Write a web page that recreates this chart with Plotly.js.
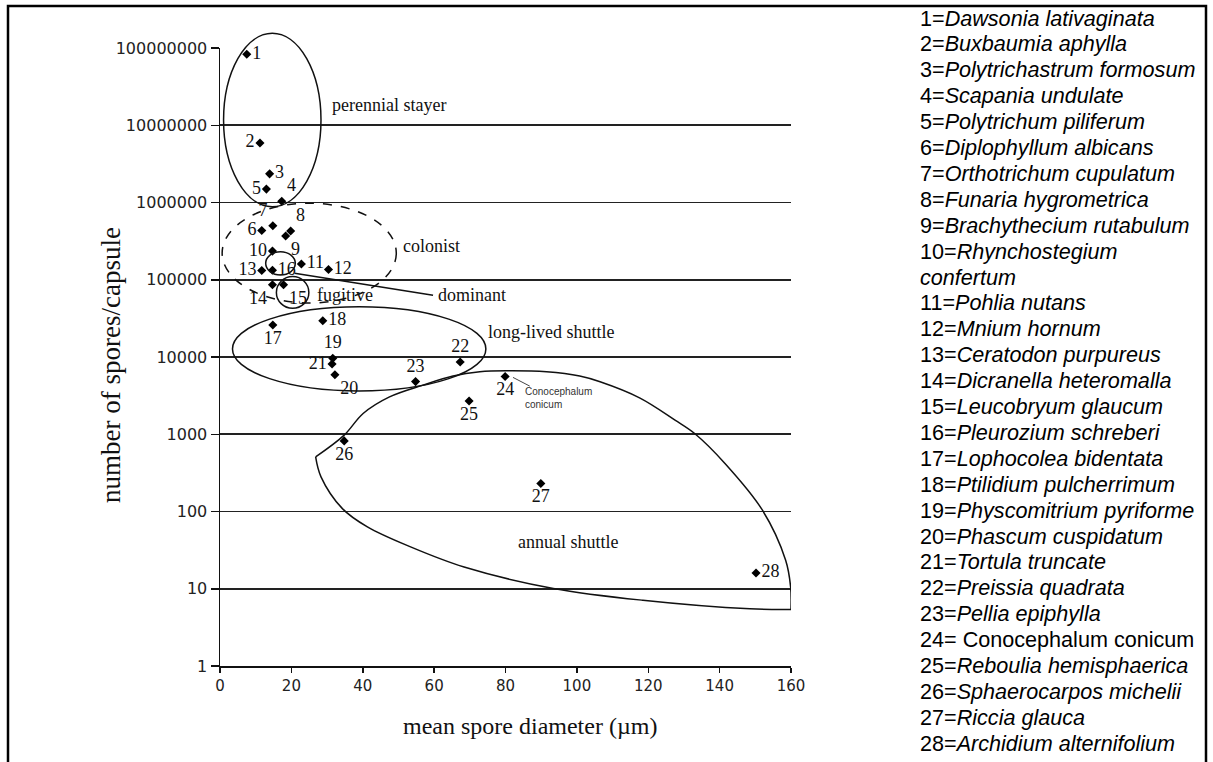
<!DOCTYPE html>
<html><head><meta charset="utf-8">
<script src="https://cdn.plot.ly/plotly-3.0.1.min.js"></script>
<style>html,body{margin:0;padding:0;background:#fff}#chart{width:1213px;height:762px}</style>
</head><body><div id="chart"></div>
<script>
// ---------- data ----------
const speciesIds = [1,2,3,4,5,6,7,8,9,10,11,12,13,14,15,16,17,18,19,20,21,22,23,24,25,26,27,28];
const speciesNames = ["Dawsonia lativaginata","Buxbaumia aphylla","Polytrichastrum formosum","Scapania undulate",
  "Polytrichum piliferum","Diplophyllum albicans","Orthotrichum cupulatum","Funaria hygrometrica",
  "Brachythecium rutabulum","Rhynchostegium confertum","Pohlia nutans","Mnium hornum","Ceratodon purpureus",
  "Dicranella heteromalla","Leucobryum glaucum","Pleurozium schreberi","Lophocolea bidentata",
  "Ptilidium pulcherrimum","Physcomitrium pyriforme","Phascum cuspidatum","Tortula truncate",
  "Preissia quadrata","Pellia epiphylla","Conocephalum conicum","Reboulia hemisphaerica",
  "Sphaerocarpos michelii","Riccia glauca","Archidium alternifolium"];
const sporeDiameter = [7.5,11.2,13.9,17.3,13.0,11.7,14.8,19.8,18.4,14.7,22.8,30.4,11.7,14.7,17.8,14.7,14.8,28.8,31.6,32.2,31.4,67.3,54.8,79.9,69.8,34.8,89.9,150.2];
const sporesPerCapsule = [8.3e7,5.9e6,2.35e6,1.04e6,1.49e6,4.35e5,5.0e5,4.27e5,3.68e5,2.35e5,1.6e5,1.36e5,1.32e5,8.6e4,8.6e4,1.33e5,2.6e4,2.95e4,9600,5900,8100,8600,4800,5600,2700,820,230,16];
const xTickVals = [0,20,40,60,80,100,120,140,160];
const yTickVals = [1,10,100,1000,10000,100000,1000000,10000000,100000000];
const yTickText = ["1","10","100","1000","10000","100000","1000000","10000000","100000000"];
const xTitle = "mean spore diameter (µm)";
const yTitle = "number of spores/capsule";

// life-strategy regions (outline extents in data units)
const regionNames = ["perennial stayer","colonist","fugitive","dominant","long-lived shuttle","annual shuttle"];
const perennialX = [1.0, 28.3],  perennialY = [8.8e5, 1.55e8];
const colonistX  = [0.6, 49.4],  colonistY  = [5.0e4, 9.8e5];
const dominantX  = [12.8, 21.1], dominantY  = [1.15e5, 2.31e5];
const fugitiveX  = [15.8, 24.9], fugitiveY  = [4.27e4, 1.1e5];
const longLivedX = [3.5, 74.5],  longLivedY = [3630, 4.47e4];
const dominantLeaderX = [20.9, 59.7], dominantLeaderY = [1.21e5, 6.3e4];
const annualUpperX = [26.8,34.8,40.1,47.5,56.9,65.3,72.8,80.3,91.5,100.8,106.5,117.7,127.5,133.0,141.5,152.0,158.5,159.9,160];
const annualUpperY = [509,973,1858,3048,4325,5662,6427,6622,6427,5662,4775,2938,1524,1023,419,104,23.4,10.5,5.4];
const annualLowerX = [160,148.5,118.5,93.4,68.4,53.4,41.3,34.3,28.3,26.8];
const annualLowerY = [5.4,5.5,7.1,10.1,19.1,34.8,63.2,109,281,509];
const regionLabelX = [30.7, 50.8, 26.5, 60.6, 74.5, 82.9];
const regionLabelY = [1.83e7, 2.74e5, 6.34e4, 6.34e4, 2.12e4, 40.4];
const conoLeaderX = [82.1, 86.8], conoLeaderY = [5445, 4198];
const conoLabelX = 84.9, conoLabelY = 2910;

// ---------- styling ----------
const labelPositions = ["middle right","middle left","middle right","top right","middle left","middle left","top left","top right",
  "bottom right","middle left","middle right","middle right","middle left","bottom left","bottom right","middle right",
  "bottom center","middle right","top center","bottom right","middle left","top center","top center","bottom center",
  "bottom center","bottom center","bottom center","middle right"];
const SERIF = "Liberation Serif, Times New Roman, serif";
const SANS = "DejaVu Sans, Verdana, sans-serif";
const ARIAL = "Liberation Sans, Arial, sans-serif";
const W = 1213, H = 762, ML = 220, MR = 422, MT = 48, MB = 96;
const PW = W - ML - MR, PH = H - MT - MB;
const pxX = px => (px - ML) / PW;
const pxY = py => (H - MB - py) / PH;
const dX = x => x / 160;
const dY = v => Math.log10(v) / 8;

function ellipse(xr, yr, dash) {
  return {type:'circle', xref:'paper', yref:'paper', x0:dX(xr[0]), x1:dX(xr[1]), y0:dY(yr[0]), y1:dY(yr[1]),
    line:{color:'#111', width:1.5, dash:dash||'solid'}, layer:'above'};
}

const traces = [
  {x: annualUpperX, y: annualUpperY, mode:'lines', line:{color:'#111', width:1.5, shape:'spline', smoothing:1}, hoverinfo:'skip', showlegend:false},
  {x: annualLowerX, y: annualLowerY, mode:'lines', line:{color:'#111', width:1.5, shape:'spline', smoothing:1}, hoverinfo:'skip', showlegend:false},
  {x: sporeDiameter, y: sporesPerCapsule, mode:'markers+text', text: speciesIds.map(String),
   textposition: labelPositions, textfont:{family:SERIF, size:18, color:'#111'},
   marker:{symbol:'diamond', size:7, color:'#000'}, cliponaxis:false, showlegend:false,
   customdata: speciesNames, hovertemplate:'%{customdata}<br>%{x} µm, %{y}<extra></extra>'}
];

const shapes = [
  {type:'rect', xref:'paper', yref:'paper', x0:pxX(8), x1:pxX(1206), y0:pxY(790), y1:pxY(6), line:{color:'#000', width:2.5}},
  ellipse(perennialX, perennialY),
  ellipse(colonistX, colonistY, 'dash'),
  ellipse(dominantX, dominantY),
  ellipse(fugitiveX, fugitiveY),
  ellipse(longLivedX, longLivedY),
  {type:'line', xref:'paper', yref:'paper', x0:dX(dominantLeaderX[0]), y0:dY(dominantLeaderY[0]), x1:dX(dominantLeaderX[1]), y1:dY(dominantLeaderY[1]), line:{color:'#111', width:1.5}},
  {type:'line', xref:'paper', yref:'paper', x0:dX(conoLeaderX[0]), y0:dY(conoLeaderY[0]), x1:dX(conoLeaderX[1]), y1:dY(conoLeaderY[1]), line:{color:'#444', width:1}}
];

const annotations = [];
regionNames.forEach((t, i) => annotations.push({xref:'x', yref:'y', x: regionLabelX[i], y: Math.log10(regionLabelY[i]),
  text: t, showarrow:false, xanchor:'left', yanchor:'middle', font:{family:SERIF, size:18, color:'#111'}}));
annotations.push({xref:'x', yref:'y', x: conoLabelX, y: Math.log10(conoLabelY), text:'Conocephalum<br>conicum',
  showarrow:false, xanchor:'left', yanchor:'middle', align:'left', font:{family:ARIAL, size:10, color:'#333'}});
// axis titles
annotations.push({xref:'paper', yref:'paper', x: pxX(111), y: pxY(365), text: yTitle, textangle:-90,
  showarrow:false, xanchor:'center', yanchor:'middle', font:{family:SERIF, size:27, color:'#111'}});
annotations.push({xref:'paper', yref:'paper', x: pxX(530), y: pxY(726), text: xTitle,
  showarrow:false, xanchor:'center', yanchor:'middle', font:{family:SERIF, size:24, color:'#111'}});

// species key on the right
const keyLines = [];
speciesIds.forEach((id, i) => {
  const name = speciesNames[i];
  if (id === 10) {
    const parts = name.split(' ');
    keyLines.push(id + '=<i>' + parts[0] + '</i>');
    keyLines.push('<i>' + parts[1] + '</i>');
  } else if (id === 24) {
    keyLines.push(id + '= ' + name);
  } else {
    keyLines.push(id + '=<i>' + name + '</i>');
  }
});
keyLines.forEach((t, k) => annotations.push({xref:'paper', yref:'paper', x: pxX(918), y: pxY(18 + k * 25.9),
  text: t, showarrow:false, xanchor:'left', yanchor:'middle', align:'left', font:{family:ARIAL, size:21.6, color:'#000'}}));

const layout = {
  width: W, height: H, margin:{l:ML, r:MR, t:MT, b:MB},
  paper_bgcolor:'#fff', plot_bgcolor:'#fff', showlegend:false,
  xaxis:{range:[0,160], tickvals:xTickVals, showgrid:false, zeroline:false, showline:true, linecolor:'#111', linewidth:1.5,
    ticks:'outside', ticklen:5, tickwidth:1.5, tickcolor:'#111', tickfont:{family:SANS, size:15, color:'#222'}},
  yaxis:{type:'log', range:[0,8], tickvals:yTickVals, ticktext:yTickText, showgrid:true, gridcolor:'#222', gridwidth:1.6,
    zeroline:false, showline:true, linecolor:'#111', linewidth:1.5, ticks:'outside', ticklen:8, tickwidth:1.5, tickcolor:'#111',
    tickfont:{family:SANS, size:16, color:'#222'}},
  shapes: shapes, annotations: annotations
};
Plotly.newPlot('chart', traces, layout, {displayModeBar:false, staticPlot:true});
</script></body></html>
